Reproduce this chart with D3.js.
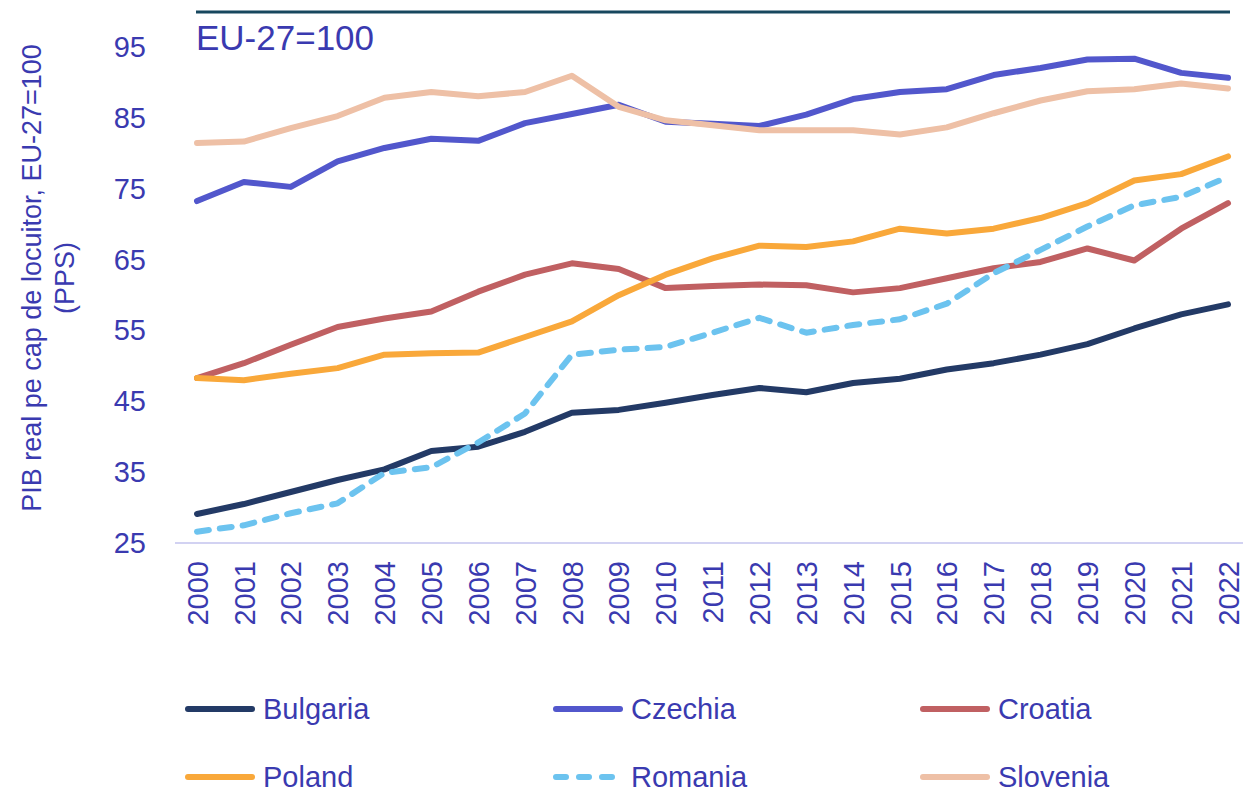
<!DOCTYPE html>
<html>
<head>
<meta charset="utf-8">
<script src="https://cdn.jsdelivr.net/npm/d3@7"></script>
<style>
  body { margin: 0; background: #fff; }
  text { font-family: "Liberation Sans", Arial, sans-serif; fill: #3a3ab0; }
</style>
</head>
<body>
<div id="chart"></div>
<script>
var years = ["2000","2001","2002","2003","2004","2005","2006","2007","2008","2009","2010","2011",
  "2012","2013","2014","2015","2016","2017","2018","2019","2020","2021","2022"];

var bulgaria = [29.1,30.5,32.2,33.9,35.4,38.0,38.6,40.7,43.4,43.8,44.8,45.9,46.9,46.3,47.6,48.2,49.5,50.4,51.6,53.1,55.3,57.3,58.7];
var czechia  = [73.3,76.0,75.3,78.9,80.8,82.1,81.8,84.3,85.6,86.9,84.5,84.2,83.9,85.5,87.7,88.7,89.1,91.1,92.1,93.3,93.4,91.4,90.7];
var croatia  = [48.3,50.4,53.0,55.5,56.7,57.7,60.5,62.9,64.5,63.7,61.0,61.3,61.5,61.4,60.4,61.0,62.4,63.8,64.7,66.6,64.9,69.4,73.0];
var poland   = [48.3,48.0,48.9,49.7,51.6,51.8,51.9,54.1,56.3,60.0,62.9,65.2,67.0,66.8,67.6,69.4,68.7,69.4,70.9,73.0,76.2,77.1,79.6];
var romania  = [26.6,27.5,29.2,30.6,34.9,35.7,39.2,43.3,51.6,52.3,52.7,54.7,56.8,54.7,55.8,56.6,58.8,63.1,66.4,69.7,72.7,73.9,76.7];
var slovenia = [81.5,81.7,83.6,85.3,87.9,88.7,88.1,88.7,91.0,86.6,84.7,84.0,83.3,83.3,83.3,82.7,83.7,85.7,87.5,88.8,89.1,89.9,89.2];

var yTicks = [25,35,45,55,65,75,85,95];
var euLevel = 100;

var series = [
  { name: "Bulgaria", values: bulgaria, color: "#233a66", dash: null },
  { name: "Czechia",  values: czechia,  color: "#5257cc", dash: null },
  { name: "Croatia",  values: croatia,  color: "#c06062", dash: null },
  { name: "Poland",   values: poland,   color: "#f9a83a", dash: null },
  { name: "Romania",  values: romania,  color: "#6cc3ef", dash: "12,11" },
  { name: "Slovenia", values: slovenia, color: "#eec0a6", dash: null }
];

var width = 1243, height = 792;

var svg = d3.select("#chart").append("svg")
  .attr("width", width)
  .attr("height", height);

svg.append("rect").attr("width", width).attr("height", height).attr("fill", "#fff");

var x = d3.scalePoint()
  .domain(years)
  .range([197, 1228]);

var y = d3.scaleLinear()
  .domain([25, 100])
  .range([543, 12]);

// EU-27 reference line at the top
svg.append("line")
  .attr("x1", x(years[0]) - 1)
  .attr("x2", x(years[years.length - 1]) + 2)
  .attr("y1", y(euLevel))
  .attr("y2", y(euLevel))
  .attr("stroke", "#17475e")
  .attr("stroke-width", 3);

svg.append("text")
  .attr("x", 196)
  .attr("y", 50)
  .style("font-size", "35px")
  .text("EU-27=100");

// y axis
var yAxis = d3.axisLeft(y)
  .tickValues(yTicks)
  .tickSize(0)
  .tickPadding(0);

var gy = svg.append("g")
  .attr("transform", "translate(146,0)")
  .call(yAxis);
gy.select(".domain").remove();
gy.selectAll("text")
  .style("font-size", "29px")
  .attr("fill", "#3a3ab0")
  .attr("font-family", null);

// x axis
var xAxis = d3.axisBottom(x).tickSize(0);

var gx = svg.append("g")
  .attr("transform", "translate(0," + y(25) + ")")
  .call(xAxis);
gx.select(".domain").remove();
gx.selectAll("text")
  .style("font-size", "29px")
  .attr("fill", "#3a3ab0")
  .attr("font-family", null)
  .attr("transform", "rotate(-90)")
  .attr("text-anchor", "end")
  .attr("x", -18)
  .attr("y", 0)
  .attr("dy", "0.35em");

svg.append("line")
  .attr("x1", 175).attr("x2", 1243)
  .attr("y1", y(25)).attr("y2", y(25))
  .attr("stroke", "#d2d2f2")
  .attr("stroke-width", 2);

// y axis title
var title = svg.append("text")
  .attr("transform", "translate(32,278) rotate(-90)")
  .attr("text-anchor", "middle")
  .style("font-size", "27px");
title.append("tspan").attr("x", 0).attr("dy", "0.35em").text("PIB real pe cap de locuitor, EU-27=100");
title.append("tspan").attr("x", 0).attr("dy", "1.2em").text("(PPS)");

// lines
var line = d3.line()
  .x(function (d, i) { return x(years[i]); })
  .y(function (d) { return y(d); });

svg.selectAll(".series")
  .data(series)
  .enter().append("path")
  .attr("class", "series")
  .attr("d", function (d) { return line(d.values); })
  .attr("fill", "none")
  .attr("stroke", function (d) { return d.color; })
  .attr("stroke-width", 6)
  .attr("stroke-linejoin", "round")
  .attr("stroke-linecap", "round")
  .attr("stroke-dasharray", function (d) { return d.dash; });

// legend
var legendCols = [185, 553, 920];
var legendRows = [709, 777];

var leg = svg.selectAll(".legend")
  .data(series)
  .enter().append("g")
  .attr("class", "legend")
  .attr("transform", function (d, i) {
    return "translate(" + legendCols[i % 3] + "," + legendRows[Math.floor(i / 3)] + ")";
  });

leg.append("line")
  .attr("x1", 3).attr("x2", 67)
  .attr("y1", 0).attr("y2", 0)
  .attr("stroke", function (d) { return d.color; })
  .attr("stroke-width", 6)
  .attr("stroke-linecap", "round")
  .attr("stroke-dasharray", function (d) { return d.dash ? "10,13" : null; });

leg.append("text")
  .attr("x", 78)
  .attr("y", 0)
  .attr("dy", "0.35em")
  .style("font-size", "29px")
  .text(function (d) { return d.name; });
</script>
</body>
</html>
